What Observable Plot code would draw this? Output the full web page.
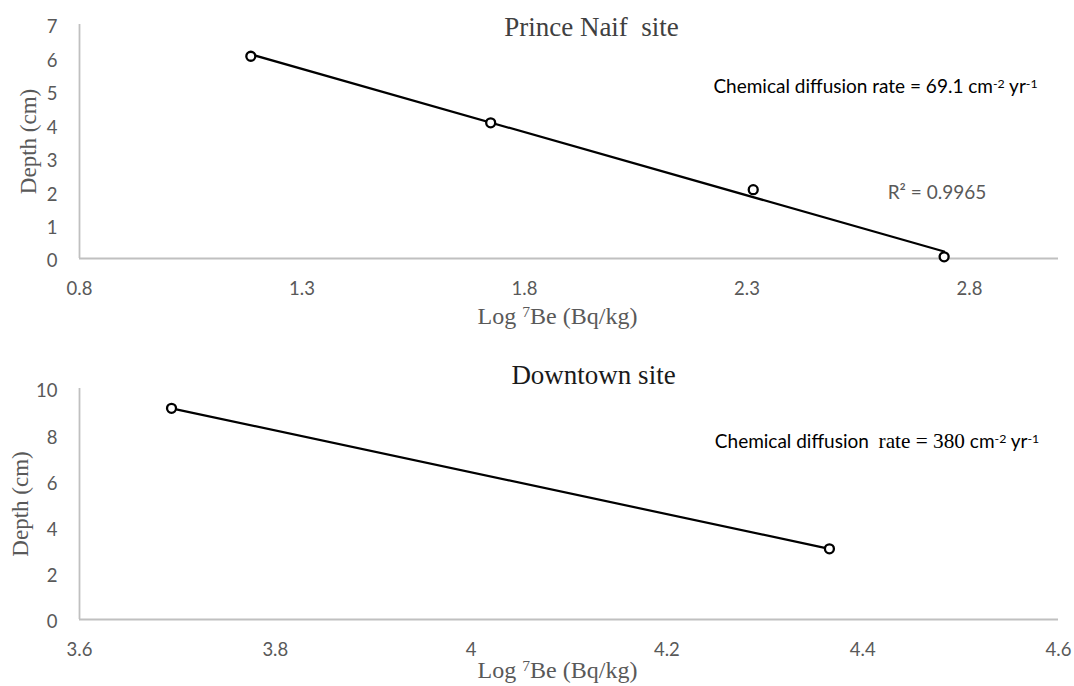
<!DOCTYPE html>
<html><head><meta charset="utf-8">
<script src="https://cdn.jsdelivr.net/npm/d3@7"></script>
<script src="https://cdn.jsdelivr.net/npm/@observablehq/plot@0.6"></script>
<style>
html,body{margin:0;padding:0;background:#fff;}
#chart{width:1074px;height:686px;overflow:hidden;}
svg{display:block;}
svg text{white-space:pre;}
</style></head><body><div id="chart"></div>
<script>
// ---- Prince Naif site ----
const princeLogBe = [1.185, 1.724, 2.314, 2.743];
const princeDepth = [6.05, 4.06, 2.06, 0.05];
const princeXTicks = [0.8, 1.3, 1.8, 2.3, 2.8];
const princeYTicks = [0, 1, 2, 3, 4, 5, 6, 7];
const princeXDomain = [0.8, 3.0];
const princeYDomain = [0, 7];
// ---- Downtown site ----
const downtownLogBe = [3.694, 4.366];
const downtownDepth = [9.14, 3.06];
const downtownXTicks = [3.6, 3.8, 4.0, 4.2, 4.4, 4.6];
const downtownYTicks = [0, 2, 4, 6, 8, 10];
const downtownXDomain = [3.6, 4.6];
const downtownYDomain = [0, 10];
// ---- texts ----
const princeTitle = "Prince Naif  site";
const downtownTitle = "Downtown site";
const xLabel = "Log 7Be (Bq/kg)";
const yLabel = "Depth (cm)";
const princeRate = "Chemical diffusion rate = 69.1 cm-2 yr-1";
const princeR2 = "R\u00B2 = 0.9965";
const downtownRate = "Chemical diffusion  rate = 380 cm-2 yr-1";

const SANS = "Lato, 'Open Sans', sans-serif";
const SERIF = "'Liberation Serif', 'DejaVu Serif', serif";

// rich-text definitions (superscripts / mixed fonts)
const rich = {
  [xLabel]: [{t: "Log "}, {t: "7", sup: true}, {t: "Be (Bq/kg)"}],
  [princeRate]: [{t: "Chemical diffusion rate = 69.1 cm"}, {t: "-2", sup: true}, {t: " yr"}, {t: "-1", sup: true}],
  [downtownRate]: [{t: "Chemical diffusion  "}, {t: "rate = 380", serif: true}, {t: " cm"}, {t: "-2", sup: true}, {t: " yr"}, {t: "-1", sup: true}]
};

function chart(o) {
  const data = o.xs.map((x, i) => ({x, y: o.ys[i]}));
  const txt = (s, opts) => Plot.text([s], {text: d => d, ...opts});
  const fmt = d => `${d}`;
  const svg = Plot.plot({
    width: 1074,
    height: o.height,
    marginTop: o.mt, marginBottom: o.mb, marginLeft: 79, marginRight: 16,
    style: {background: "white", fontFamily: SANS, fontSize: "18px", overflow: "visible"},
    x: {domain: o.xDomain},
    y: {domain: o.yDomain},
    marks: [
      Plot.ruleY([o.yDomain[0]], {stroke: "#c0c0c0", strokeWidth: 1.8}),
      Plot.ruleX([o.xDomain[0]], {stroke: "#c0c0c0", strokeWidth: 1.8}),
      Plot.axisX({ticks: o.xTicks, tickFormat: fmt, tickSize: 0, tickPadding: 23, label: null, color: "#595959", fontSize: 18.5, fontFamily: SANS}),
      Plot.axisY({ticks: o.yTicks, tickFormat: fmt, tickSize: 0, tickPadding: 22, label: null, color: "#595959", fontSize: 18.5, fontFamily: SANS, dy: 3}),
      Plot.linearRegressionY(data, {x: "x", y: "y", ci: 0, stroke: "black", strokeWidth: 2.2}),
      Plot.dot(data, {x: "x", y: "y", r: 4.5, stroke: "black", strokeWidth: 2.3, fill: "white"}),
      txt(o.title, {frameAnchor: "top", dx: o.titleDx, dy: o.titleDy, lineAnchor: "bottom", textAnchor: "middle", fontFamily: SERIF, fontSize: 27, fill: o.titleColor}),
      txt(xLabel, {frameAnchor: "bottom", dx: -11.5, dy: o.xlDy, lineAnchor: "bottom", textAnchor: "middle", fontFamily: SERIF, fontSize: 24, fill: "#595959"}),
      txt(yLabel, {frameAnchor: "left", dx: o.ylDx, dy: 0, rotate: -90, lineAnchor: "middle", textAnchor: "middle", fontFamily: SERIF, fontSize: 23, fill: "#595959"}),
      ...o.notes.map(n => txt(n.s, {frameAnchor: "top", dx: n.dx, dy: n.dy, lineAnchor: "bottom", textAnchor: "middle", fontFamily: SANS, fontSize: n.size, fill: n.fill}))
    ]
  });
  d3.select(svg).selectAll("text").each(function() {
    const parts = rich[this.textContent];
    if (!parts) return;
    const el = d3.select(this);
    el.text(null);
    for (const p of parts) {
      const ts = el.append("tspan").text(p.t);
      if (p.sup) ts.style("font-size", "65%").attr("baseline-shift", "42%");
      if (p.serif) ts.style("font-family", SERIF).style("font-size", "112%");
    }
  });
  return svg;
}

const topChart = chart({
  xs: princeLogBe, ys: princeDepth, xDomain: princeXDomain, yDomain: princeYDomain,
  xTicks: princeXTicks, yTicks: princeYTicks,
  height: 340, mt: 24, mb: 82,
  title: princeTitle, titleDx: 22.5, titleDy: 11, titleColor: "#404040",
  xlDy: 65, ylDx: -51,
  notes: [
    {s: princeRate, dx: 306.5, dy: 68, size: 19, fill: "#000"},
    {s: princeR2, dx: 368, dy: 174, size: 19, fill: "#595959"}
  ]
});
const bottomChart = chart({
  xs: downtownLogBe, ys: downtownDepth, xDomain: downtownXDomain, yDomain: downtownYDomain,
  xTicks: downtownXTicks, yTicks: downtownYTicks,
  height: 346, mt: 48, mb: 67,
  title: downtownTitle, titleDx: 24.5, titleDy: -5, titleColor: "#1a1a1a",
  xlDy: 58, ylDx: -59,
  notes: [
    {s: downtownRate, dx: 308, dy: 59, size: 19, fill: "#000"}
  ]
});
document.getElementById("chart").append(topChart, bottomChart);
</script>
</body></html>
